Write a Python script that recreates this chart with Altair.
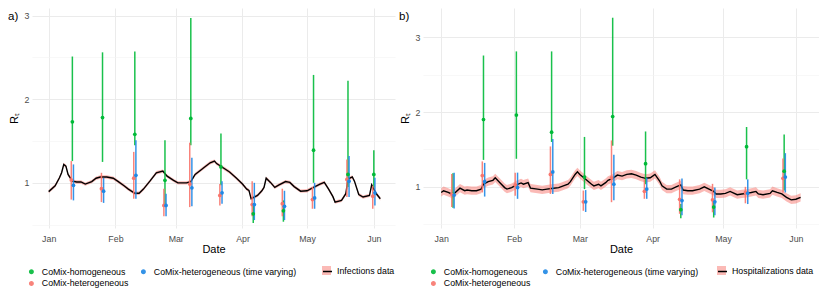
import altair as alt
import pandas as pd

FONT = "Liberation Sans"
GREEN, RED, BLUE = "#00BA38", "#F8766D", "#1F88E5"
M_HOMO = "CoMix-homogeneous"
M_HET = "CoMix-heterogeneous"
M_TV = "CoMix-heterogeneous (time varying)"
LEGEND_ORDER = [M_HOMO, M_HET, M_TV]
LEGEND_COLORS = [GREEN, RED, BLUE]

MONTH_TICKS = ["2021-01-01", "2021-02-01", "2021-03-01", "2021-04-01", "2021-05-01", "2021-06-01"]
MINOR_TICKS = ["2021-01-16T12:00:00", "2021-02-15T00:00:00", "2021-03-16T12:00:00",
               "2021-04-16T00:00:00", "2021-05-16T12:00:00"]
X_DOMAIN = ["2020-12-24T06:00:00", "2021-06-10T20:00:00"]
Y_TICKS = [0.5, 1, 1.5, 2, 2.5, 3]

# ---------------- panel a: infections ----------------
a_line_dates = ["2021-01-01","2021-01-04","2021-01-06","2021-01-07","2021-01-08","2021-01-09","2021-01-10",
    "2021-01-12","2021-01-14","2021-01-16","2021-01-18","2021-01-21","2021-01-23","2021-01-25","2021-01-28",
    "2021-01-31","2021-02-02","2021-02-05","2021-02-07","2021-02-10","2021-02-12","2021-02-14","2021-02-17",
    "2021-02-20","2021-02-23","2021-02-25","2021-02-28","2021-03-02","2021-03-06","2021-03-08","2021-03-10",
    "2021-03-13","2021-03-14","2021-03-17","2021-03-19","2021-03-20","2021-03-23","2021-03-26","2021-03-29",
    "2021-04-01","2021-04-03","2021-04-04","2021-04-05","2021-04-08","2021-04-10","2021-04-11","2021-04-12",
    "2021-04-14","2021-04-16","2021-04-18","2021-04-21","2021-04-23","2021-04-25","2021-04-28","2021-05-01",
    "2021-05-04","2021-05-07","2021-05-09","2021-05-11","2021-05-13","2021-05-14","2021-05-17","2021-05-19",
    "2021-05-20","2021-05-22","2021-05-23","2021-05-25","2021-05-27","2021-05-30","2021-05-31","2021-06-02",
    "2021-06-04"]
a_line_rt = [0.895,0.965,1.06,1.12,1.22,1.20,1.10,1.02,1.01,1.01,0.985,1.015,1.055,1.07,1.07,1.055,
    1.02,0.965,0.925,0.875,0.875,0.925,1.02,1.12,1.14,1.08,1.03,
    1.00,1.00,1.015,1.10,1.16,1.18,1.24,1.26,1.23,1.18,1.13,1.06,
    0.985,0.925,0.91,0.81,0.85,0.905,0.945,1.055,1.005,0.945,0.975,1.015,1.005,0.955,0.90,
    0.905,0.945,0.985,1.005,0.925,0.835,0.77,0.79,0.87,1.045,1.07,1.02,0.86,0.83,0.85,0.975,
    0.875,0.81]
a_band = 0.02

a_model_dates = ["2021-01-12","2021-01-26","2021-02-10","2021-02-24","2021-03-08","2021-03-22",
                 "2021-04-06","2021-04-20","2021-05-04","2021-05-20","2021-06-01"]
a_homo_mid = [1.73, 1.78, 1.58, 1.03, 1.77, 1.19, 0.63, 0.665, 1.39, 1.10, 1.10]
a_homo_lo  = [1.26, 1.25, 1.45, 0.73, 1.45, 0.97, 0.52, 0.535, 1.00, 0.95, 0.945]
a_homo_hi  = [2.51, 2.56, 2.57, 1.51, 2.97, 1.59, 0.76, 0.79, 2.29, 2.22, 1.39]
a_het_mid = [1.035, 0.93, 1.055, 0.73, 0.985, 0.85, 0.74, 0.75, 0.80, 1.04, 0.84]
a_het_lo  = [0.80, 0.77, 0.81, 0.60, 0.71, 0.73, 0.60, 0.60, 0.69, 0.83, 0.69]
a_het_hi  = [1.26, 1.12, 1.37, 0.93, 1.48, 0.985, 1.02, 0.93, 0.95, 1.28, 0.965]
a_tv_mid = [0.97, 0.90, 1.09, 0.73, 0.94, 0.88, 0.74, 0.72, 0.82, 1.02, 0.88]
a_tv_lo  = [0.79, 0.76, 0.81, 0.60, 0.72, 0.75, 0.555, 0.555, 0.69, 0.83, 0.73]
a_tv_hi  = [1.22, 1.06, 1.51, 0.87, 1.30, 1.02, 1.00, 0.905, 1.00, 1.32, 1.06]

# ---------------- panel b: hospitalizations ----------------
b_line_dates = ["2021-01-01","2021-01-02","2021-01-04","2021-01-06","2021-01-07","2021-01-09","2021-01-11",
    "2021-01-12","2021-01-14","2021-01-16","2021-01-18","2021-01-19","2021-01-21","2021-01-23","2021-01-24",
    "2021-01-26","2021-01-28","2021-01-29","2021-01-31",
    "2021-02-02","2021-02-04","2021-02-05","2021-02-07","2021-02-08","2021-02-11","2021-02-13","2021-02-15",
    "2021-02-17","2021-02-20","2021-02-22","2021-02-24","2021-02-25","2021-02-27","2021-02-28",
    "2021-03-01","2021-03-03","2021-03-04","2021-03-06","2021-03-07","2021-03-09","2021-03-10","2021-03-12",
    "2021-03-13","2021-03-15","2021-03-17","2021-03-19","2021-03-21","2021-03-23","2021-03-25","2021-03-27",
    "2021-03-29","2021-03-31",
    "2021-04-02","2021-04-04","2021-04-05","2021-04-07","2021-04-09","2021-04-11","2021-04-13","2021-04-14",
    "2021-04-16","2021-04-18","2021-04-21","2021-04-23","2021-04-25","2021-04-27","2021-04-28","2021-04-30",
    "2021-05-02","2021-05-04","2021-05-07","2021-05-09","2021-05-11","2021-05-13","2021-05-15","2021-05-16",
    "2021-05-18","2021-05-21","2021-05-22","2021-05-24","2021-05-26","2021-05-28","2021-05-30",
    "2021-06-01","2021-06-03"]
b_line_rt = [0.925,0.948,0.925,0.895,0.925,0.983,0.948,0.957,0.948,0.948,0.97,1.035,1.07,1.087,1.12,
    1.056,0.99,0.97,0.99,
    1.026,1.052,1.035,1.056,0.983,0.97,0.96,0.97,0.978,0.99,1.013,1.035,1.07,1.166,1.2,
    1.166,1.114,1.087,1.035,1.013,1.035,1.013,1.056,1.087,1.114,1.157,1.144,1.166,1.174,1.157,1.13,
    1.114,1.122,
    1.166,1.078,1.013,0.97,0.97,1.0,1.026,0.957,0.948,0.948,0.97,1.0,0.97,0.939,0.905,0.905,
    0.913,0.939,0.895,0.905,0.913,0.925,0.939,0.905,0.895,0.913,0.948,0.925,0.905,0.86,0.826,
    0.834,0.86]
b_band = 0.055

b_model_dates = ["2021-01-06","2021-01-19","2021-02-02","2021-02-17","2021-03-03","2021-03-15",
                 "2021-03-29","2021-04-13","2021-04-27","2021-05-11","2021-05-27"]
b_homo_mid = [0.90, 1.90, 1.96, 1.73, 1.13, 1.94, 1.31, 0.695, 0.73, 1.536, 1.21]
b_homo_lo  = [0.72, 1.36, 1.375, 1.60, 0.97, 1.55, 1.035, 0.58, 0.59, 1.10, 0.95]
b_homo_hi  = [1.18, 2.755, 2.81, 2.81, 1.667, 3.26, 1.74, 0.77, 0.817, 1.80, 1.70]
b_het_mid = [0.90, 1.15, 1.026, 1.166, 0.80, 1.12, 0.94, 0.834, 0.826, 0.925, 1.114]
b_het_lo  = [0.73, 0.925, 0.88, 0.905, 0.68, 0.795, 0.84, 0.64, 0.66, 0.78, 0.925]
b_het_hi  = [1.17, 1.34, 1.19, 1.54, 0.95, 1.62, 1.10, 1.10, 1.04, 1.00, 1.38]
b_tv_mid = [0.89, 1.07, 0.99, 1.20, 0.80, 1.035, 0.97, 0.817, 0.80, 0.913, 1.13]
b_tv_lo  = [0.71, 0.87, 0.84, 0.905, 0.664, 0.82, 0.84, 0.62, 0.62, 0.77, 0.925]
b_tv_hi  = [1.19, 1.32, 1.19, 1.64, 0.957, 1.43, 1.12, 1.11, 0.99, 1.10, 1.45]

DODGE_HOURS = {M_HET: -12, M_HOMO: 0, M_TV: 12}


def line_frame(dates, rt, band, label):
    df = pd.DataFrame({"date": pd.to_datetime(dates), "rt": rt})
    df["lo"] = df["rt"] - band
    df["hi"] = df["rt"] + band
    df["src"] = label
    df["src2"] = label
    return df


def model_frame(dates, series):
    parts = []
    for name, mid, lo, hi in series:
        d = pd.DataFrame({"date": pd.to_datetime(dates), "mid": mid, "lo": lo, "hi": hi})
        d["xd"] = d["date"] + pd.to_timedelta(DODGE_HOURS[name], unit="h")
        d["model"] = name
        parts.append(d)
    return pd.concat(parts, ignore_index=True)


x_axis = alt.Axis(
    values=MONTH_TICKS + MINOR_TICKS,
    labelExpr="date(datum.value) == 1 ? timeFormat(datum.value, '%b') : ''",
    domain=False, ticks=False, labelPadding=6, labelColor="#4D4D4D", labelFontSize=8.8,
    labelFont=FONT, titleFont=FONT, titleFontSize=11, titleFontWeight="normal", titleColor="black",
    titlePadding=1,
    gridColor={"condition": {"test": "date(datum.value) != 1", "value": "#F4F4F4"}, "value": "#EBEBEB"},
    gridWidth={"condition": {"test": "date(datum.value) != 1", "value": 0.6}, "value": 1},
)
y_axis = alt.Axis(
    values=Y_TICKS,
    labelExpr="datum.value % 1 == 0 ? format(datum.value, 'd') : ''",
    domain=False, ticks=False, labelPadding=3, labelColor="#4D4D4D", labelFontSize=8.8,
    labelFont=FONT, titleFont=FONT, titleFontSize=11, titleFontWeight="normal", titleColor="black",
    titlePadding=5,
    gridColor={"condition": {"test": "datum.value % 1 != 0", "value": "#F4F4F4"}, "value": "#EBEBEB"},
    gridWidth={"condition": {"test": "datum.value % 1 != 0", "value": 0.6}, "value": 1},
)


def panel(line_df, mod_df, tag, label, ydom, width, lx, dx):
    xs = alt.Scale(domain=X_DOMAIN)
    ys = alt.Scale(domain=ydom, zero=False, nice=False)
    color_legend = alt.Legend(orient="none", legendX=lx, legendY=259, columns=2, columnPadding=9,
                              rowPadding=1, symbolType="circle", symbolSize=12, title=None,
                              labelFont=FONT, labelFontSize=8.8, labelColor="black", labelOffset=6,
                              padding=0)
    color = alt.Color("model:N", scale=alt.Scale(domain=LEGEND_ORDER, range=LEGEND_COLORS),
                      legend=color_legend)
    ribbon = alt.Chart(line_df).mark_area(opacity=0.5).encode(
        x=alt.X("date:T", scale=xs, axis=x_axis, title="Date"),
        y=alt.Y("lo:Q", scale=ys, axis=y_axis, title="Rₜ"),
        y2="hi:Q",
        fill=alt.Fill("src:N", scale=alt.Scale(domain=[label], range=[RED]),
                      legend=alt.Legend(orient="none", legendX=dx, legendY=258, title=None,
                                        symbolType="square", symbolSize=81, symbolOpacity=0.5,
                                        symbolStrokeWidth=0, labelFont=FONT, labelFontSize=8.8,
                                        labelColor="black", labelOffset=6, padding=0)),
    )
    line = alt.Chart(line_df).mark_line(strokeWidth=1.4).encode(
        x=alt.X("date:T", scale=xs),
        y=alt.Y("rt:Q", scale=ys),
        stroke=alt.Stroke("src2:N", scale=alt.Scale(domain=[label], range=["black"]),
                          legend=alt.Legend(orient="none", legendX=dx, legendY=258, title=None,
                                            symbolType="stroke", symbolSize=81, symbolStrokeWidth=1.5,
                                            labelExpr="''", labelFont=FONT, labelFontSize=8.8,
                                            labelOffset=6, padding=0)),
    )
    rules = alt.Chart(mod_df).mark_rule(strokeWidth=1.5, opacity=0.9).encode(
        x=alt.X("xd:T", scale=xs), y=alt.Y("lo:Q", scale=ys), y2="hi:Q", color=color)
    points = alt.Chart(mod_df).mark_point(filled=True, size=14, opacity=1).encode(
        x=alt.X("xd:T", scale=xs), y=alt.Y("mid:Q", scale=ys), color=color)
    return alt.layer(ribbon, line, rules, points).resolve_scale(
        fill="independent", stroke="independent"
    ).properties(
        width=width, height=220,
        title=alt.TitleParams(tag, anchor="start", frame="bounds", offset=-14, fontSize=11.5,
                              font=FONT, fontWeight="normal", color="black"),
    )


a_line = line_frame(a_line_dates, a_line_rt, a_band, "Infections data")
a_mod = model_frame(a_model_dates, [(M_HOMO, a_homo_mid, a_homo_lo, a_homo_hi),
                                    (M_HET, a_het_mid, a_het_lo, a_het_hi),
                                    (M_TV, a_tv_mid, a_tv_lo, a_tv_hi)])
b_line = line_frame(b_line_dates, b_line_rt, b_band, "Hospitalizations data")
b_mod = model_frame(b_model_dates, [(M_HOMO, b_homo_mid, b_homo_lo, b_homo_hi),
                                    (M_HET, b_het_mid, b_het_lo, b_het_hi),
                                    (M_TV, b_tv_mid, b_tv_lo, b_tv_hi)])

pa = panel(a_line, a_mod, "a)", "Infections data", [0.46, 3.09], 363, -5, 290)
pb = panel(b_line, b_mod, "b)", "Hospitalizations data", [0.45, 3.39], 396, 6, 294)

chart = alt.hconcat(pa, pb, spacing=4).resolve_scale(
    color="independent", fill="independent", stroke="independent"
).resolve_legend(color="independent", fill="independent", stroke="independent").properties(
    padding=0, background="white"
).configure_view(stroke=None)

chart.save("out.html", embed_options={"renderer": "svg", "actions": False})
